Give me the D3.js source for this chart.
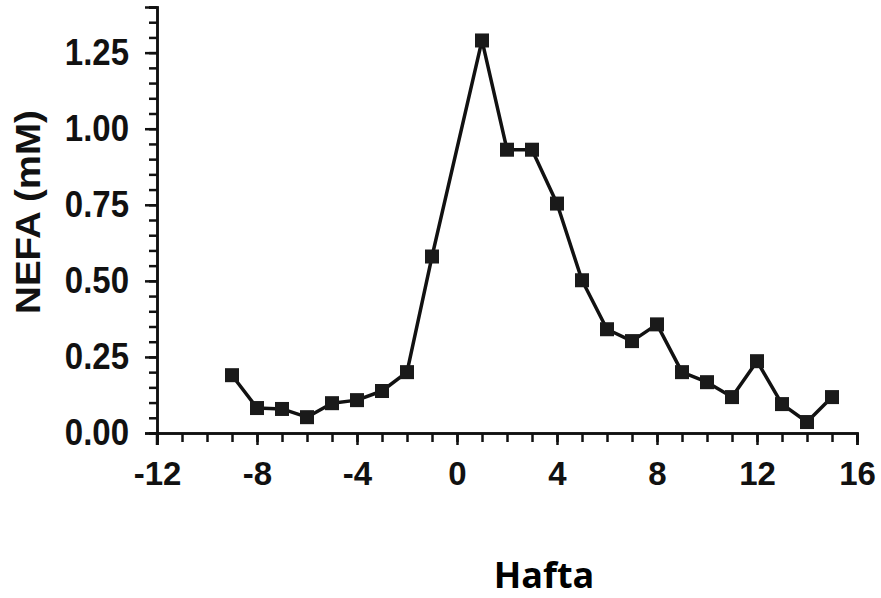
<!DOCTYPE html>
<html>
  <head>
    <meta charset="utf-8">
    <title>NEFA</title>
    <script src="https://d3js.org/d3.v7.min.js"></script>
    <style>
      body { margin: 0; background: #fff; }
    </style>
  </head>

  <body>
    <script>
      // weeks relative to calving and NEFA values (mM)
      var weeks = [-9, -8, -7, -6, -5, -4, -3, -2, -1, 1, 2, 3, 4, 5, 6, 7, 8, 9, 10, 11, 12, 13, 14, 15];
      var nefa = [0.19, 0.082, 0.079, 0.052, 0.098, 0.108, 0.138, 0.20, 0.58, 1.29, 0.931, 0.931, 0.754, 0.502,
                  0.341, 0.302, 0.357, 0.20, 0.167, 0.118, 0.236, 0.095, 0.036, 0.118];
      var xTickLabels = [-12, -8, -4, 0, 4, 8, 12, 16];
      var yTickLabels = [0, 0.25, 0.5, 0.75, 1.0, 1.25];

      var width = 881, height = 598;
      var svg = d3.select("body")
        .append("svg")
          .attr("width", width)
          .attr("height", height)
          .style("background", "#fff");

      var x = d3.scaleLinear().domain([-12, 16]).range([157, 857]);
      var y = d3.scaleLinear().domain([0, 1.4]).range([433, 7]);

      var ink = "#111";
      var font = "'Liberation Sans', Arial, sans-serif";

      // minor ticks first, then major ones on top
      var xAxisMinor = d3.axisBottom(x).tickValues(d3.range(-12, 17, 1)).tickSize(9).tickFormat("");
      var xAxis = d3.axisBottom(x).tickValues(xTickLabels).tickSize(12).tickPadding(12)
        .tickFormat(d3.format("d"));
      var yAxisMinor = d3.axisLeft(y).tickValues(d3.range(0, 141, 5).map(d => d / 100)).tickSize(8).tickFormat("");
      var yAxis = d3.axisLeft(y).tickValues(yTickLabels).tickSize(12).tickPadding(16)
        .tickFormat(d3.format(".2f"));

      function styleAxis(g) {
        g.selectAll("path").attr("stroke", ink).attr("stroke-width", 2.5);
        g.selectAll("line").attr("stroke", ink).attr("stroke-width", 2.5);
        g.selectAll("text")
          .attr("fill", ink)
          .style("font-family", font)
          .style("font-weight", "bold")
          .style("font-size", "33px");
      }

      svg.append("g").attr("transform", "translate(0,433)").call(xAxisMinor).call(styleAxis);
      svg.append("g").attr("transform", "translate(0,433)").call(xAxis).call(styleAxis)
        .selectAll("text").attr("dy", "0.85em").text(d => d < 0 ? "-" + Math.abs(d) : d);
      svg.append("g").attr("transform", "translate(157,0)").call(yAxisMinor).call(styleAxis);
      svg.append("g").attr("transform", "translate(157,0)").call(yAxis).call(styleAxis)
        .selectAll("text").attr("transform", "scale(1,1.1)");

      // y axis runs a little below the x axis, like the tick at -12
      svg.append("line")
          .attr("x1", 157).attr("x2", 157)
          .attr("y1", y(0)).attr("y2", y(0) + 12)
          .attr("stroke", ink).attr("stroke-width", 2.5);

      var pts = weeks.map((w, i) => [w, nefa[i]]);

      svg.append("path")
          .datum(pts)
          .attr("fill", "none")
          .attr("stroke", ink)
          .attr("stroke-width", 3.5)
          .attr("stroke-linejoin", "round")
          .attr("d", d3.line().x(d => x(d[0])).y(d => y(d[1])));

      var s = 14;
      svg.selectAll("rect.pt")
        .data(pts)
        .enter()
        .append("rect")
          .attr("class", "pt")
          .attr("x", d => x(d[0]) - s / 2)
          .attr("y", d => y(d[1]) - s / 2)
          .attr("width", s)
          .attr("height", s)
          .attr("fill", "#1a1a1a");

      svg.append("text")
          .attr("transform", "translate(28,212) rotate(-90) scale(1.1,1)")
          .attr("text-anchor", "middle")
          .attr("dominant-baseline", "central")
          .style("font-family", font)
          .style("font-weight", "bold")
          .style("font-size", "35px")
          .attr("fill", ink)
          .text("NEFA (mM)");

      svg.append("text")
          .attr("x", 544)
          .attr("y", 588)
          .attr("text-anchor", "middle")
          .style("font-family", "'Open Sans', 'Noto Sans', sans-serif")
          .style("font-weight", "bold")
          .style("font-size", "36px")
          .attr("fill", "#000")
          .text("Hafta");
    </script>
  </body>
</html>
